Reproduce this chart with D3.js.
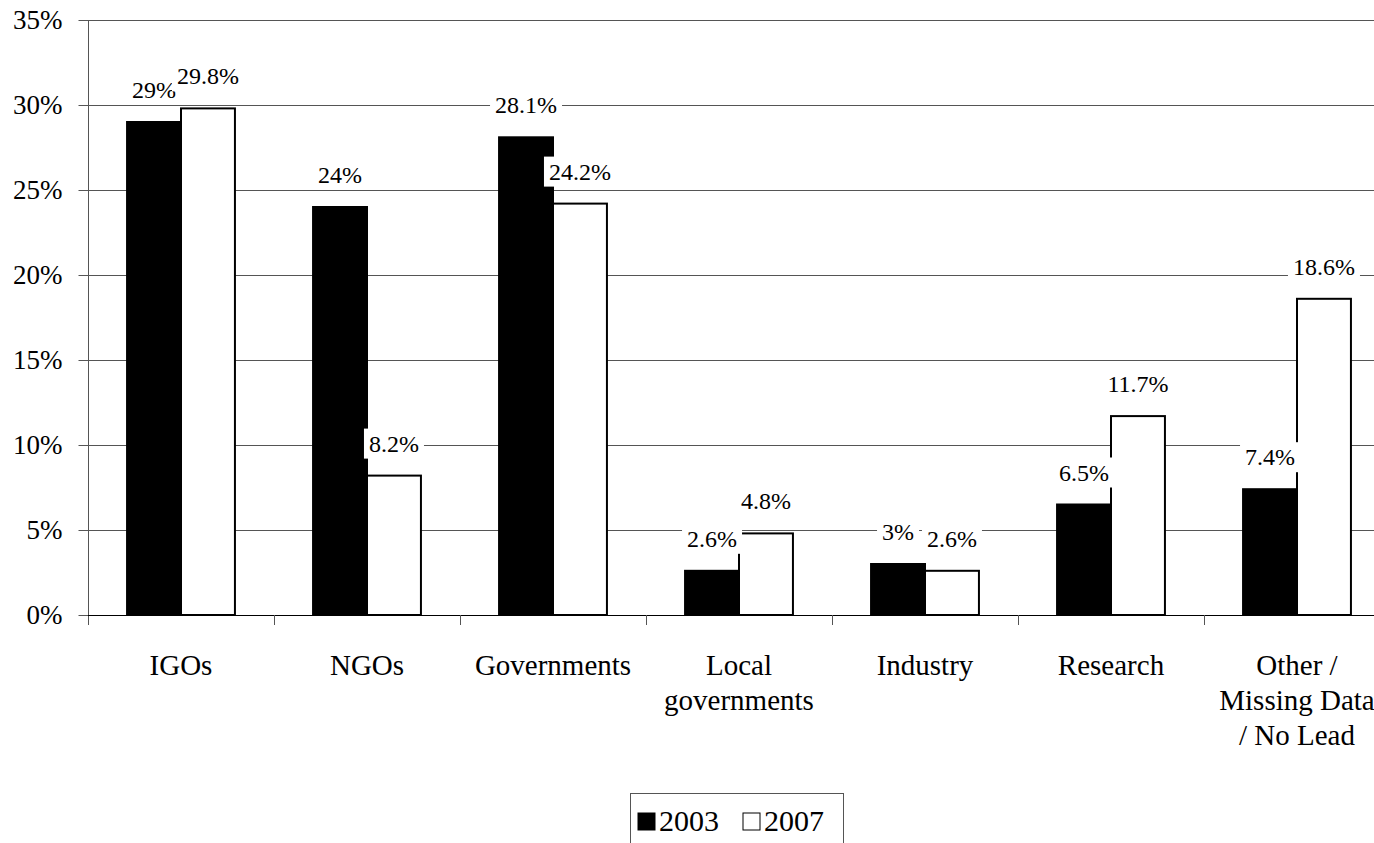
<!DOCTYPE html>
<html>
<head>
<meta charset="utf-8">
<script src="https://cdn.jsdelivr.net/npm/d3@7/dist/d3.min.js"></script>
<style>
  html, body { margin: 0; padding: 0; background: #fff; overflow: hidden; }
  svg { display: block; }
</style>
</head>
<body>
<script>
    var categories = ["IGOs", "NGOs", "Governments", "Local\ngovernments", "Industry", "Research", "Other /\nMissing Data\n/ No Lead"];
    var seriesNames = ["2003", "2007"];
    var values2003 = [29, 24, 28.1, 2.6, 3, 6.5, 7.4];
    var values2007 = [29.8, 8.2, 24.2, 4.8, 2.6, 11.7, 18.6];
    var yTicks = [0, 5, 10, 15, 20, 25, 30, 35];

    var W = 1374, H = 843;
    var font = "'Liberation Serif', 'Times New Roman', serif";

    var svg = d3.select("body")
        .append("svg")
        .attr("width", W)
        .attr("height", H);

    var plotLeft = 88, plotRight = 1390, plotTop = 20, plotBottom = 615;

    var yScale = d3.scaleLinear()
        .domain([0, 35])
        .range([plotBottom, plotTop]);

    var xScale = d3.scaleBand()
        .domain(categories)
        .range([plotLeft, plotRight])
        .paddingInner(0.42)
        .paddingOuter(0.21);

    var x1 = d3.scaleBand()
        .domain(seriesNames)
        .range([0, xScale.bandwidth()]);

    var step = xScale.step();

    // gridlines
    svg.append("g")
        .selectAll("line")
        .data(yTicks.filter(function(d){ return d > 0; }))
        .enter()
        .append("line")
        .attr("x1", plotLeft)
        .attr("x2", W)
        .attr("y1", function(d){ return Math.round(yScale(d)) + 0.5; })
        .attr("y2", function(d){ return Math.round(yScale(d)) + 0.5; })
        .attr("stroke", "#555")
        .attr("stroke-width", 1);

    // y axis
    var yAxis = svg.append("g")
        .attr("transform", "translate(" + (plotLeft + 0.5) + ",0)")
        .call(d3.axisLeft(yScale)
            .tickValues(yTicks)
            .tickSize(10)
            .tickPadding(16)
            .tickFormat(function(d){ return d + "%"; }));

    yAxis.select(".domain").remove();
    yAxis.selectAll("line").attr("stroke", "#555");
    yAxis.selectAll("text")
        .style("font-family", font)
        .style("font-size", "27px")
        .attr("fill", "#000");

    svg.append("line")
        .attr("x1", plotLeft + 0.5).attr("x2", plotLeft + 0.5)
        .attr("y1", plotTop).attr("y2", plotBottom + 10)
        .attr("stroke", "#555");

    // bars
    var groups = svg.append("g")
        .selectAll("g")
        .data(categories)
        .enter()
        .append("g")
        .attr("transform", function(d){ return "translate(" + xScale(d) + ",0)"; });

    var barData = function(d, i) {
        return [
            { key: "2003", v: values2003[i], fill: "#000" },
            { key: "2007", v: values2007[i], fill: "#fff" }
        ];
    };

    groups.selectAll("rect")
        .data(barData)
        .enter()
        .append("rect")
        .attr("x", function(d){ return x1(d.key); })
        .attr("width", x1.bandwidth())
        .attr("y", function(d){ return yScale(d.v); })
        .attr("height", function(d){ return yScale(0) - yScale(d.v); })
        .attr("fill", function(d){ return d.fill; })
        .attr("stroke", "#000")
        .attr("stroke-width", 2);

    // x axis
    svg.append("line")
        .attr("x1", plotLeft).attr("x2", W)
        .attr("y1", plotBottom + 0.5).attr("y2", plotBottom + 0.5)
        .attr("stroke", "#000");

    svg.append("g")
        .selectAll("line")
        .data(categories)
        .enter()
        .append("line")
        .attr("x1", function(d){ return Math.round(xScale(d) - step * 0.21 + step) + 0.5; })
        .attr("x2", function(d){ return Math.round(xScale(d) - step * 0.21 + step) + 0.5; })
        .attr("y1", plotBottom)
        .attr("y2", plotBottom + 10)
        .attr("stroke", "#555");

    svg.append("g")
        .selectAll("text")
        .data(categories)
        .enter()
        .append("text")
        .attr("text-anchor", "middle")
        .style("font-family", font)
        .style("font-size", "29px")
        .attr("transform", function(d){ return "translate(" + (xScale(d) + xScale.bandwidth() / 2) + ",675)"; })
        .each(function(d){
            var lines = d.split("\n");
            var t = d3.select(this);
            for (var i = 0; i < lines.length; i++) {
                t.append("tspan").attr("x", 0).attr("y", i * 35).text(lines[i]);
            }
        });

    // value labels with white background
    var labels = svg.append("g");
    categories.forEach(function(c, i){
        barData(c, i).forEach(function(d){
            var cx = xScale(c) + x1(d.key) + x1.bandwidth() / 2;
            var g = labels.append("g");
            var txt = g.append("text")
                .attr("x", cx)
                .attr("y", yScale(d.v) - 24)
                .attr("text-anchor", "middle")
                .style("font-family", font)
                .style("font-size", "24px")
                .text(d.v + "%");
            var bb = txt.node().getBBox();
            g.insert("rect", "text")
                .attr("x", bb.x - 5)
                .attr("y", bb.y - 2)
                .attr("width", bb.width + 10)
                .attr("height", bb.height + 4)
                .attr("fill", "#fff");
        });
    });

    // legend
    var legend = svg.append("g").attr("transform", "translate(630,793)");
    legend.append("rect")
        .attr("x", 0.5).attr("y", 0.5)
        .attr("width", 213).attr("height", 60)
        .attr("fill", "#fff")
        .attr("stroke", "#555");

    var items = [
        { name: seriesNames[0], fill: "#000", x: 8 },
        { name: seriesNames[1], fill: "#fff", x: 113 }
    ];
    items.forEach(function(it){
        legend.append("rect")
            .attr("x", it.x).attr("y", 20)
            .attr("width", 17).attr("height", 17)
            .attr("fill", it.fill)
            .attr("stroke", "#000")
            .attr("stroke-width", 1);
        legend.append("text")
            .attr("x", it.x + 21)
            .attr("y", 38)
            .style("font-family", font)
            .style("font-size", "30px")
            .text(it.name);
    });
</script>
</body>
</html>
